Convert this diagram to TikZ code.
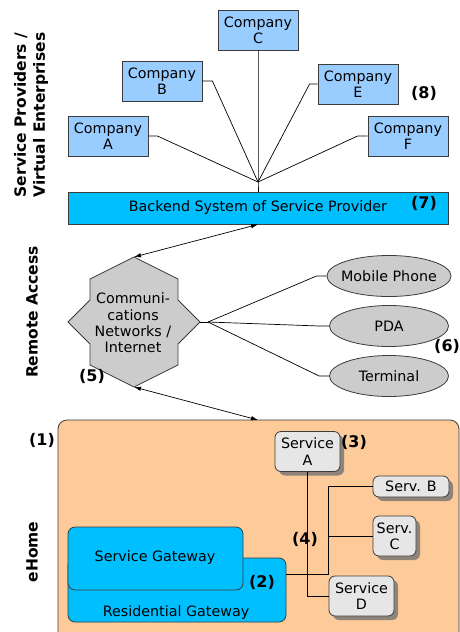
\documentclass[tikz,border=0pt]{standalone}
\usepackage{fontspec}
\setmainfont{DejaVu Sans}
\usetikzlibrary{shapes.geometric,arrows.meta,shadows}

\definecolor{compblue}{RGB}{153,204,255}
\definecolor{backblue}{RGB}{0,191,255}
\definecolor{devgray}{RGB}{204,204,204}
\definecolor{homepeach}{RGB}{252,203,153}
\definecolor{servgray}{RGB}{230,230,230}
\definecolor{edgegray}{RGB}{60,60,60}

\tikzset{
  base/.style={font=\fontsize{14.3}{16.3}\selectfont},
  company/.style={base, draw=edgegray, fill=compblue, line width=0.8pt,
    minimum width=80pt, minimum height=40pt, inner sep=0pt, align=center},
  backbar/.style={base, draw=edgegray, fill=backblue, line width=0.8pt,
    minimum width=380pt, minimum height=32pt, inner sep=0pt},
  device/.style={base, ellipse, draw=edgegray, fill=devgray, line width=0.8pt,
    minimum width=119pt, minimum height=41pt, inner xsep=-4pt, inner ysep=0pt},
  gateway/.style={draw=edgegray, fill=backblue, line width=0.8pt,
    rounded corners=7pt, inner sep=0pt},
  service/.style={base, draw=edgegray, fill=servgray, line width=0.8pt,
    rounded corners=6pt, inner sep=0pt, align=center,
    drop shadow={shadow xshift=4pt, shadow yshift=-4pt, fill=black!55, opacity=0.8}},
  tag/.style={font=\fontsize{16}{18}\selectfont\bfseries, inner sep=0pt},
  side/.style={font=\fontsize{15.5}{19}\selectfont\bfseries, rotate=90, align=center, inner sep=0pt},
  wire/.style={draw=black, line width=0.7pt},
  link/.style={wire, {Latex[length=7pt,width=4.5pt]}-{Latex[length=7pt,width=4.5pt]}},
}

\begin{document}
\begin{tikzpicture}[x=1pt,y=-1pt]
\useasboundingbox (0,0) rectangle (460,632);
\fill[white] (0,0) rectangle (460,632);

% side captions
\node[side] (capsp) at (31,115) {Service Providers /\\Virtual Enterprises};
\node[side] (capra) at (32,312) {Remote Access};
\node[side] (capeh) at (32,552) {eHome};

% service provider companies
\node[company] (ca) at (108,136) {Company\\A};
\node[company] (cb) at (162,81)  {Company\\B};
\node[company] (cc) at (258,30)  {Company\\C};
\node[company] (ce) at (358,84)  {Company\\E};
\node[company] (cf) at (408,136) {Company\\F};
\node[tag] (t8) at (424,93) {(8)};

% backend system
\node[backbar] (back) at (258,208) {Backend System of Service Provider};
\node[tag] (t7) at (424,203) {(7)};

\coordinate (hub) at (258,182);
\draw[wire] (ca.east) -- ++(9,0) -- (hub);
\draw[wire] (cb.east) -- ++(10,0) -- (hub);
\draw[wire] (cc.south) -- (hub) -- (back.north);
\draw[wire] (ce.west) -- ++(-8,0) -- (hub);
\draw[wire] (cf.west) -- ++(-10,0) -- (hub);

% communications network star
\coordinate (netc) at (134,322);
\coordinate (nettop) at (134,257);
\coordinate (netbot) at (134,387);
\coordinate (netright) at (200,322);
\coordinate (netjoin) at (208,322);
\filldraw[draw=edgegray, fill=devgray, line width=0.8pt]
  (nettop) -- (90,279) -- (90,300) -- (68,322) -- (90,344) -- (90,365)
  -- (netbot) -- (178,365) -- (178,344) -- (netright) -- (178,300)
  -- (178,279) -- cycle;
\node[base, align=center, inner sep=0pt] (net) at (133,323)
  {Communi-\\cations\\Networks /\\Internet};
\node[tag] (t5) at (92,376) {(5)};

% end devices
\node[device] (mob)  at (389,276) {Mobile Phone};
\node[device] (pda)  at (389,326) {PDA};
\node[device] (term) at (389,376) {Terminal};
\node[tag, anchor=west] (t6) at (434,346) {(6)};

\draw[wire] (netright) -- (netjoin);
\draw[wire] (mob.west) -- ++(-10,0) -- (netjoin);
\draw[wire] (pda.west) -- ++(-10,0) -- (netjoin);
\draw[wire] (term.west) -- ++(-10,0) -- (netjoin);

% eHome
\node[draw=edgegray, fill=homepeach, line width=0.8pt, rounded corners=9pt,
  minimum width=401pt, minimum height=230pt, inner sep=0pt] (home) at (258.5,535) {};
\coordinate (hometop) at (258,420);
\node[tag] (t1) at (42,440) {(1)};

\draw[link] (nettop) -- (back.south);
\draw[link] (netbot) -- (hometop);

% gateways
\node[gateway, minimum width=218pt, minimum height=64pt] (rg) at (177,590) {};
\node[gateway, minimum width=175pt, minimum height=63pt] (sg) at (155.5,558.5) {};
\node[base] (sgtext) at (155,558) {Service Gateway};
\node[base] (rgtext) at (176,613) {Residential Gateway};
\node[tag] (t2) at (262,582) {(2)};

% services
\node[service, minimum width=65pt, minimum height=40pt] (sa) at (307.5,451.5) {Service\\A};
\node[service, minimum width=76pt, minimum height=21pt] (sb) at (411,486.5) {Serv. B};
\node[service, minimum width=43pt, minimum height=40pt] (sc) at (394.5,536) {Serv.\\C};
\node[service, minimum width=65pt, minimum height=40pt] (sd) at (361.5,596) {Service\\D};
\node[tag] (t3) at (354,442) {(3)};
\node[tag] (t4) at (305,539) {(4)};

\coordinate (rgout) at ([yshift=16pt]rg.east);
\draw[wire] (sa.south) |- (sd.west);
\draw[wire] (rgout) -- (rgout -| sd.west) |- (sb.west);
\draw[wire] (sc.west) -- (sc.west -| sd.west);
\end{tikzpicture}
\end{document}
